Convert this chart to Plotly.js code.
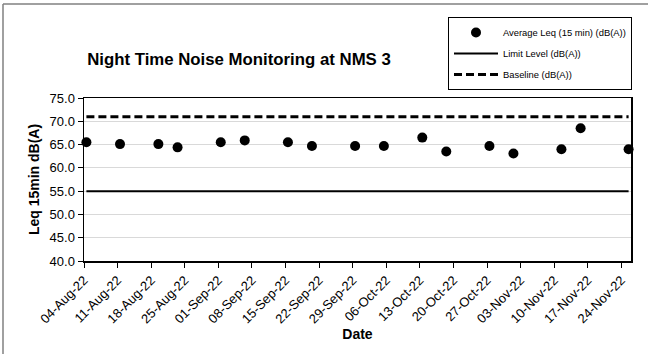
<!DOCTYPE html>
<html>
<head>
<meta charset="utf-8">
<script src="https://cdn.plot.ly/plotly-3.0.1.min.js"></script>
<style>
  html, body { margin: 0; padding: 0; background: #ffffff; }
  #chart { width: 648px; height: 354px; }
</style>
</head>
<body>
<div id="chart"></div>
<script>
// ---- data ----
var dates = ['2022-08-04','2022-08-11','2022-08-19','2022-08-23','2022-09-01','2022-09-06',
             '2022-09-15','2022-09-20','2022-09-29','2022-10-05','2022-10-13','2022-10-18',
             '2022-10-27','2022-11-01','2022-11-11','2022-11-15','2022-11-25'];
var avgLeq = [65.5, 65.1, 65.1, 64.4, 65.5, 65.9, 65.5, 64.7, 64.7, 64.7, 66.5, 63.5,
              64.7, 63.1, 64.0, 68.5, 64.0];
var limitLevel = [55, 55, 55, 55, 55, 55, 55, 55, 55, 55, 55, 55, 55, 55, 55, 55, 55];
var baseline = [71, 71, 71, 71, 71, 71, 71, 71, 71, 71, 71, 71, 71, 71, 71, 71, 71];
var seriesNames = ['Average Leq (15 min) (dB(A))', 'Limit Level (dB(A))', 'Baseline (dB(A))'];
var xTickStart = '2022-08-04';
var xRange = ['2022-08-04', '2022-11-26'];
var yRange = [40, 75];

// Excel date axis draws each daily value in the middle of its day slot
var xPos = dates.map(function (d) { return d + ' 12:00'; });

var FONT = 'Liberation Sans, Arial, sans-serif';

var traces = [
  {
    x: xPos, y: avgLeq, name: seriesNames[0], type: 'scatter', mode: 'markers',
    marker: { color: '#000000', size: 10 }, cliponaxis: false, legendgroup: 'a'
  },
  {
    x: xPos, y: limitLevel, name: seriesNames[1], type: 'scatter', mode: 'lines',
    line: { color: '#000000', width: 2 }, cliponaxis: false, legendgroup: 'b'
  },
  {
    x: xPos, y: baseline, name: seriesNames[2], type: 'scatter', mode: 'lines',
    line: { color: '#000000', width: 3, dash: '8px,4px' }, cliponaxis: false, legendgroup: 'c'
  }
];

var L = 84, R = 17, T = 98, B = 93;
var W = 648, H = 354;
var pw = W - L - R, ph = H - T - B;
function px2x(px) { return (px - L) / pw; }
function py2y(py) { return (H - B - py) / ph; }

var layout = {
  width: W, height: H,
  margin: { l: L, r: R, t: T, b: B, pad: 0, autoexpand: false },
  paper_bgcolor: '#ffffff', plot_bgcolor: '#ffffff',
  font: { family: FONT, color: '#000000' },
  showlegend: true,
  title: {
    text: 'Night Time Noise Monitoring at NMS 3',
    font: { family: FONT, size: 16.8, color: '#000000', weight: 'bold' },
    xref: 'paper', x: px2x(239), xanchor: 'center',
    yref: 'container', y: 1 - 59 / H, yanchor: 'middle'
  },
  xaxis: {
    type: 'date', range: xRange, tick0: xTickStart, dtick: 7 * 86400000,
    tickformat: '%d-%b-%y', tickangle: -45,
    tickfont: { family: FONT, size: 13, color: '#000000' },
    ticks: 'outside', ticklen: 5, tickcolor: '#000000', tickwidth: 1,
    showgrid: false, zeroline: false,
    showline: true, linecolor: '#000000', linewidth: 1.5, mirror: true,
    title: { text: 'Date', font: { family: FONT, size: 14, color: '#000000', weight: 'bold' }, standoff: 0 },
    automargin: false, fixedrange: true
  },
  yaxis: {
    range: yRange, dtick: 5, tick0: 40, tickformat: '.1f',
    tickfont: { family: FONT, size: 13, color: '#000000' },
    ticks: 'outside', ticklen: 5, tickcolor: '#000000', tickwidth: 1,
    showgrid: true, gridcolor: '#d9d9d9', gridwidth: 1, zeroline: false,
    showline: true, linecolor: '#000000', linewidth: 1.5, mirror: true,
    title: { text: 'Leq 15min dB(A)', font: { family: FONT, size: 14, color: '#000000', weight: 'bold' }, standoff: 6 },
    automargin: false, fixedrange: true
  },
  legend: {
    x: px2x(632), xanchor: 'right', y: py2y(17), yanchor: 'top',
    bgcolor: '#ffffff', bordercolor: '#000000', borderwidth: 1,
    font: { family: FONT, size: 9.4, color: '#000000' },
    traceorder: 'grouped', tracegroupgap: 2, itemwidth: 44
  },
  shapes: [
    { type: 'line', xref: 'paper', yref: 'paper', x0: px2x(3), x1: px2x(648), y0: py2y(4), y1: py2y(4),
      line: { color: '#808080', width: 1.5 } },
    { type: 'line', xref: 'paper', yref: 'paper', x0: px2x(3), x1: px2x(3), y0: py2y(4), y1: py2y(354),
      line: { color: '#808080', width: 1.5 } }
  ]
};

Plotly.newPlot('chart', traces, layout, { displayModeBar: false, staticPlot: true });
</script>
</body>
</html>
